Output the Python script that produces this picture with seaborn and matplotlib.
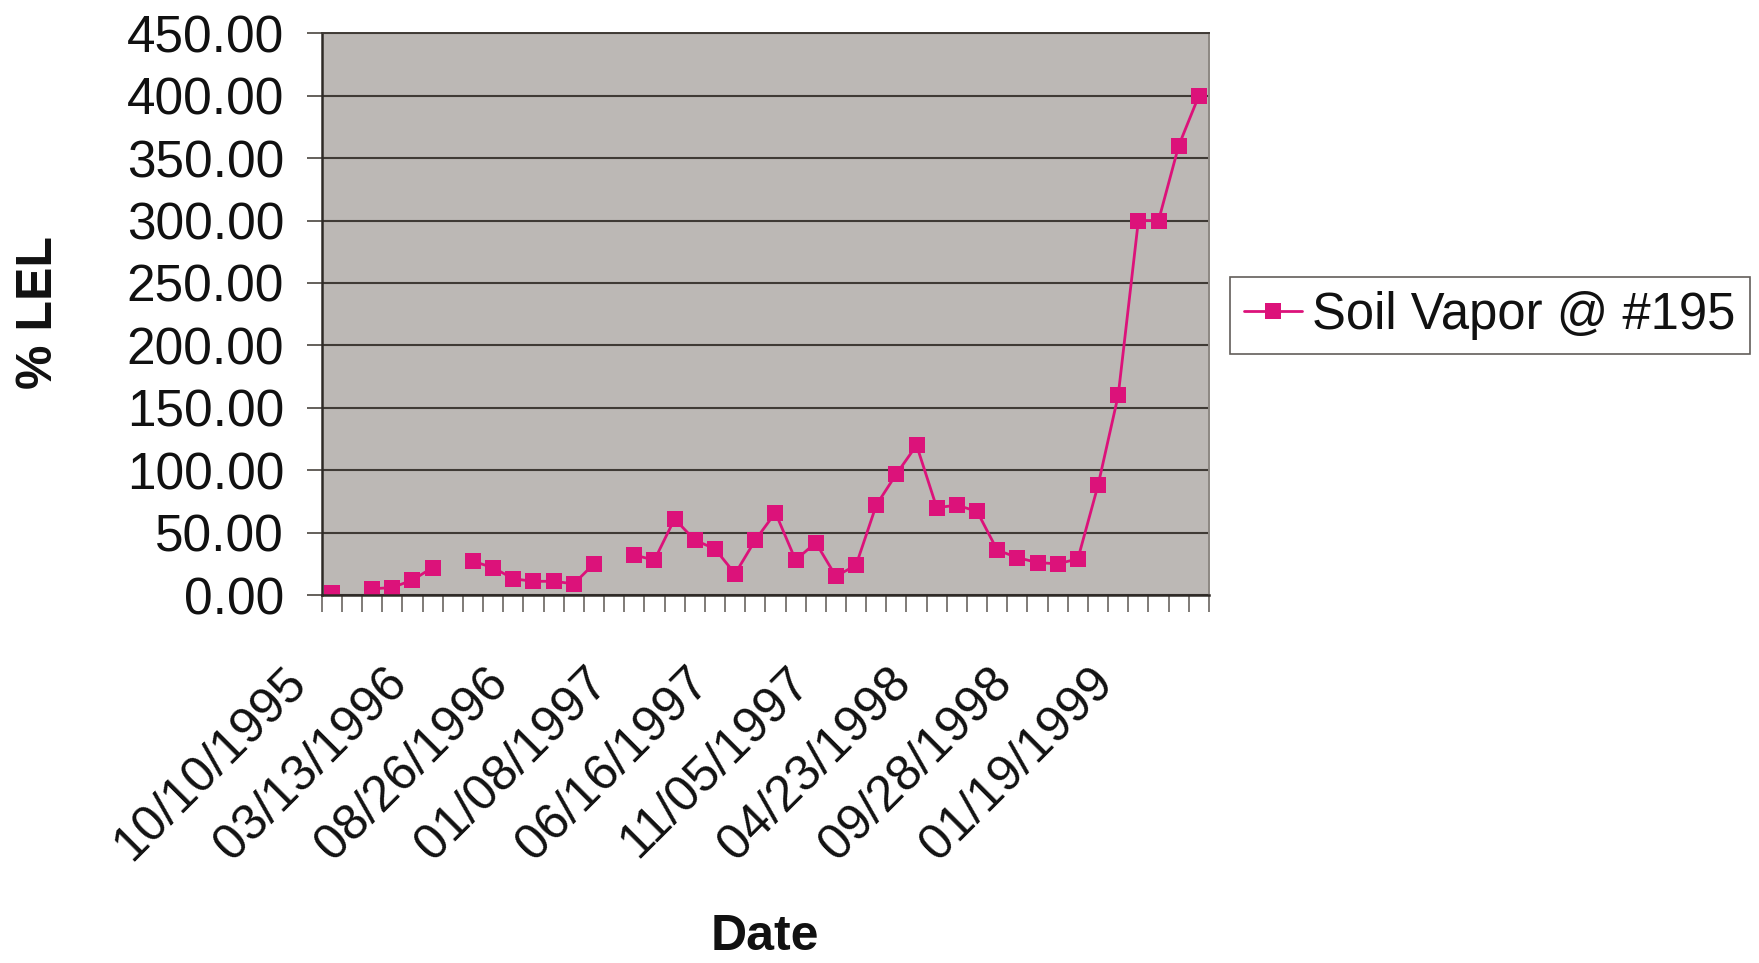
import numpy as np
import pandas as pd
import matplotlib
matplotlib.use("Agg")
import matplotlib.pyplot as plt
from matplotlib.lines import Line2D
from matplotlib.transforms import ScaledTranslation
import seaborn as sns

# Soil vapor readings (% LEL) per sampling slot; None = no reading taken
lel_values = [2, None, 5, 6, 12, 22, None, 27, 22, 13, 11, 11, 9, 25, None,
              32, 28, 61, 44, 37, 17, 44, 66, 28, 42, 15, 24, 72, 97, 120,
              70, 72, 67, 36, 30, 26, 25, 29, 88, 160, 300, 300, 360, 400]
# Dates shown on the category axis (every fifth sampling slot)
date_labels = ["10/10/1995", "03/13/1996", "08/26/1996", "01/08/1997",
               "06/16/1997", "11/05/1997", "04/23/1998", "09/28/1998",
               "01/19/1999"]
label_step = 5
y_ticks = [0, 50, 100, 150, 200, 250, 300, 350, 400, 450]
series_name = "Soil Vapor @ #195"

LINE_COLOR = "#dc127a"
PLOT_BG = "#bcb8b5"
GRID_COLOR = "#3f3a35"

sns.set_theme(style="white")
plt.rcParams["font.family"] = ["Liberation Sans", "DejaVu Sans"]

# Long-form table; a new segment starts after every missing reading so
# the line breaks across gaps
df = pd.DataFrame({"slot": np.arange(len(lel_values)),
                   "lel": pd.array(lel_values, dtype="Float64").astype(float)})
df["segment"] = df["lel"].isna().cumsum()
df = df.dropna()

fig = plt.figure(figsize=(17.59, 9.63), dpi=100)
fig.patch.set_facecolor("white")
ax = fig.add_axes([0.1829, 0.3821, 0.5044, 0.5833])
ax.set_facecolor(PLOT_BG)

sns.lineplot(data=df, x="slot", y="lel", units="segment", estimator=None,
             color=LINE_COLOR, linewidth=2.0, marker="s", markersize=11,
             markeredgewidth=0, markerfacecolor=LINE_COLOR, legend=False,
             ax=ax)

n = len(lel_values)
ax.set_xlim(-0.5, n - 0.5)
ax.set_ylim(y_ticks[0], y_ticks[-1])

# y axis
ax.set_yticks(y_ticks)
ax.set_yticklabels([f"{v:.2f}" for v in y_ticks])
ax.yaxis.grid(True, color=GRID_COLOR, linewidth=1.5)
ax.xaxis.grid(False)
ax.set_axisbelow(True)
ax.tick_params(axis="y", which="major", direction="out", length=11,
               width=1.2, color="#4a4540", pad=16, labelsize=37,
               labelcolor="#111111", left=True)

# x axis: tick marks on category boundaries, dates at category centres
ax.set_xticks(np.arange(n + 1) - 0.5)
ax.set_xticklabels([])
ax.tick_params(axis="x", which="major", direction="out", length=12,
               width=1.2, color="#6a6560", bottom=True)
ax.set_xticks(np.arange(0, n, label_step)[:len(date_labels)], minor=True)
ax.set_xticklabels(date_labels, minor=True, rotation=45, ha="right",
                   va="center", rotation_mode="anchor")
ax.tick_params(axis="x", which="minor", length=0, pad=58, labelsize=36,
               labelcolor="#111111")
shift = ScaledTranslation(-33 / 100, 0, fig.dpi_scale_trans)
for lab in ax.get_xticklabels(minor=True):
    lab.set_transform(lab.get_transform() + shift)

for side in ["left", "bottom"]:
    ax.spines[side].set_color("#2e2a26")
    ax.spines[side].set_linewidth(1.8)
ax.spines["top"].set_color(GRID_COLOR)
ax.spines["top"].set_linewidth(1.4)
ax.spines["right"].set_color("#8c8782")
ax.spines["right"].set_linewidth(1.4)

ax.set_xlabel("Date", fontsize=36, fontweight="bold", color="#111111")
ax.xaxis.set_label_coords(0.5, -0.568)
ax.set_ylabel("")
fig.text(0.022, 0.675, "% LEL", rotation=90, ha="center", va="center",
         fontsize=36, fontweight="bold", color="#111111")

handle = Line2D([], [], color=LINE_COLOR, linewidth=2.0, marker="s",
                markersize=11, markeredgewidth=0)
leg = fig.legend([handle], [series_name], loc="upper left",
                 bbox_to_anchor=(0.699, 0.7127), borderaxespad=0,
                 fontsize=36.5, frameon=True, fancybox=False,
                 handlelength=1.15, handletextpad=0.2, borderpad=0.28)
leg.get_frame().set_edgecolor("#3a3530")
leg.get_frame().set_linewidth(1.2)
for t in leg.get_texts():
    t.set_color("#111111")

fig.savefig("out.png", dpi=100, facecolor="white")
